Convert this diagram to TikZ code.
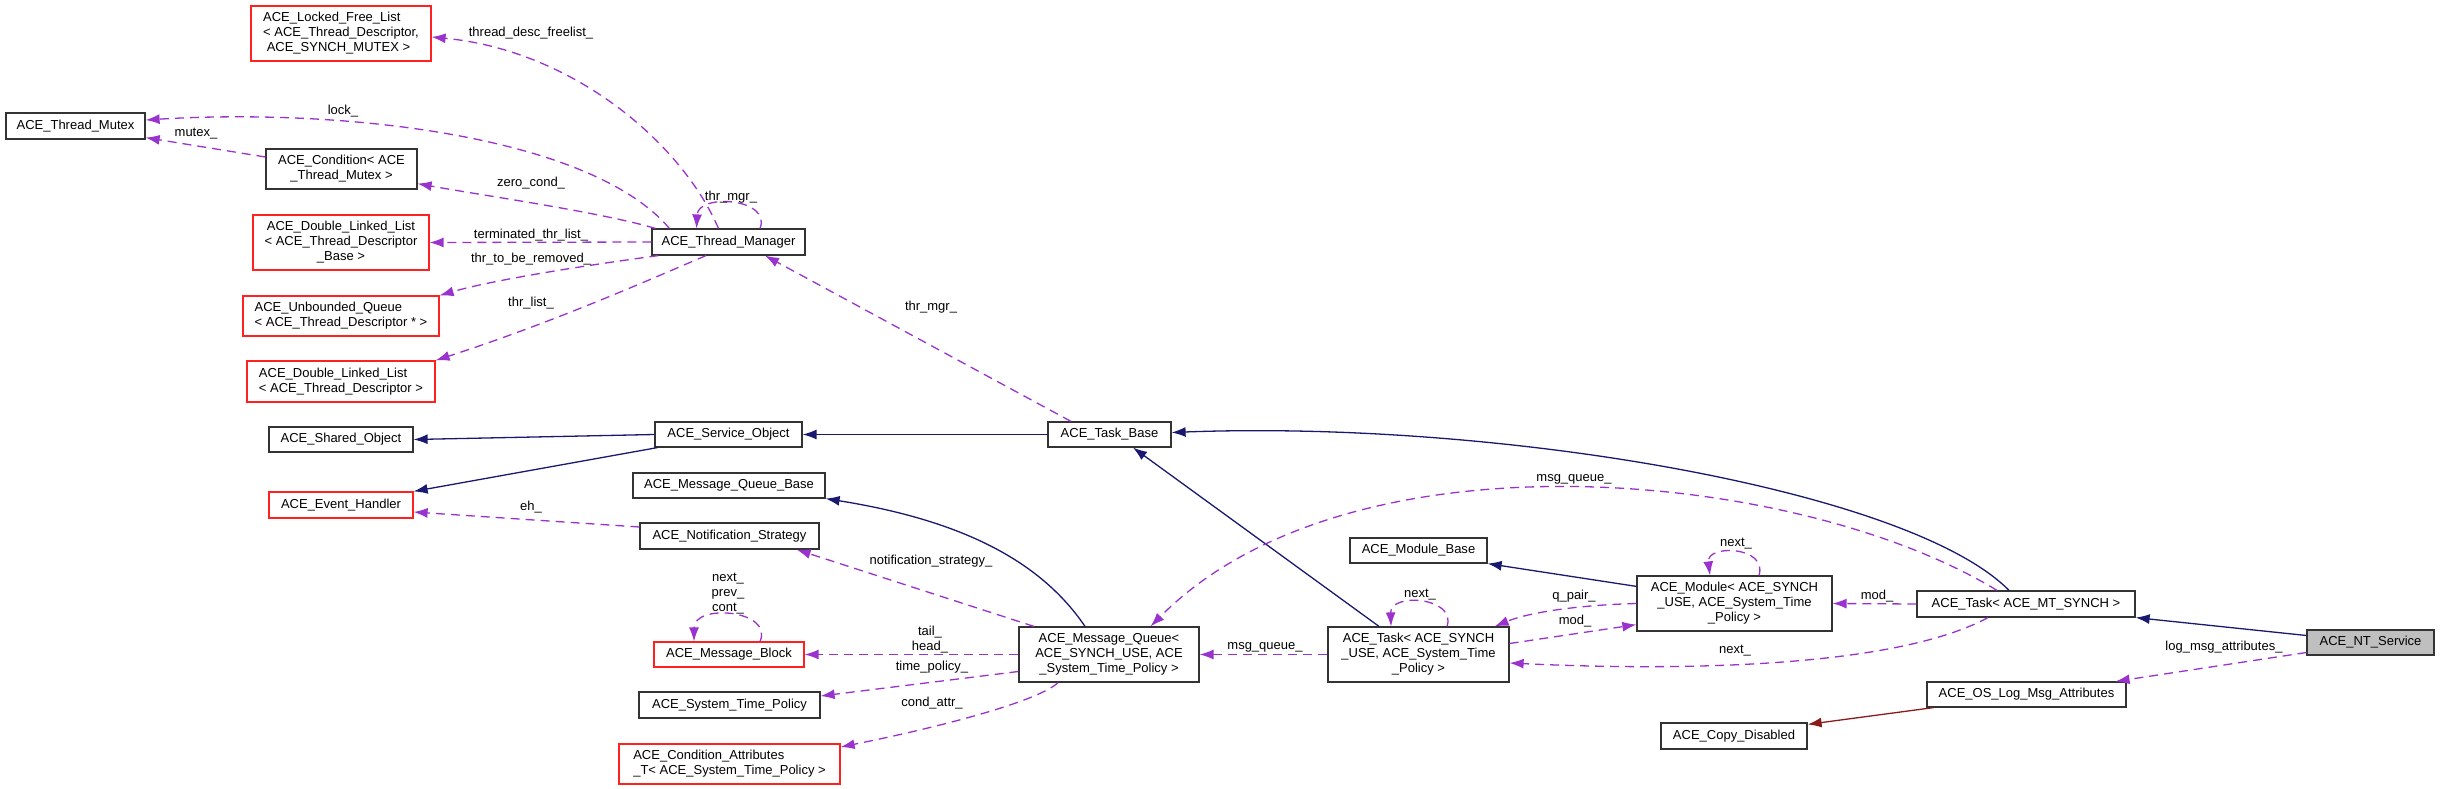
\documentclass[tikz,border=0pt]{standalone}
\usepackage{fontspec}
\setmainfont{Liberation Sans}
\usetikzlibrary{arrows.meta,calc}
\definecolor{usec}{HTML}{9A32CD}
\definecolor{inhc}{HTML}{191970}
\definecolor{privc}{HTML}{8B1A1A}
\definecolor{boxred}{HTML}{FF2020}
\definecolor{ntfill}{HTML}{BFBFBF}
\newcommand{\lblfont}{\fontsize{13bp}{15bp}\selectfont}
\begin{document}
\begin{tikzpicture}[x=1bp,y=-1bp,
  cls/.style={draw=black!80, line width=1.2bp, fill=white, inner sep=0pt, align=center, font=\lblfont},
  redcls/.style={cls, draw=boxred},
  lcls/.style={redcls, align=left},
  lab/.style={inner sep=0pt, font=\lblfont, align=center},
  use/.style={draw=usec, line width=1.3bp, dash pattern=on 9bp off 6bp, -{Latex[length=14bp,width=10bp]}},
  inh/.style={draw=inhc, line width=1.3bp, -{Latex[length=14bp,width=10bp]}},
  priv/.style={draw=privc, line width=1.3bp, -{Latex[length=14bp,width=10bp]}}]
\useasboundingbox (0,0) rectangle (2440,789);
% nodes
\node[lcls, minimum width=180bp, minimum height=55bp] (lfl) at (341,33.5) {ACE\_Locked\_Free\_List\\< ACE\_Thread\_Descriptor,\\\ ACE\_SYNCH\_MUTEX >};
\node[cls, minimum width=139bp, minimum height=26bp] (tmx) at (75.5,126) {ACE\_Thread\_Mutex};
\node[cls, minimum width=151bp, minimum height=40bp] (cond) at (341.5,169) {ACE\_Condition< ACE\\\_Thread\_Mutex >};
\node[redcls, minimum width=176bp, minimum height=55bp] (dllb) at (341,242.5) {ACE\_Double\_Linked\_List\\< ACE\_Thread\_Descriptor\\\_Base >};
\node[cls, minimum width=153bp, minimum height=26bp] (tm) at (728.5,242) {ACE\_Thread\_Manager};
\node[lcls, minimum width=196bp, minimum height=40bp] (uq) at (341,316) {ACE\_Unbounded\_Queue\\< ACE\_Thread\_Descriptor * >};
\node[lcls, minimum width=188bp, minimum height=41bp] (dll) at (341,381.5) {ACE\_Double\_Linked\_List\\< ACE\_Thread\_Descriptor >};
\node[cls, minimum width=144bp, minimum height=25bp] (so) at (341,439.5) {ACE\_Shared\_Object};
\node[cls, minimum width=147bp, minimum height=25bp] (svc) at (728.5,434.5) {ACE\_Service\_Object};
\node[cls, minimum width=123bp, minimum height=25bp] (tb) at (1109.5,434.5) {ACE\_Task\_Base};
\node[redcls, minimum width=144bp, minimum height=26bp] (eh) at (341,505) {ACE\_Event\_Handler};
\node[cls, minimum width=192bp, minimum height=25bp] (mqb) at (729,485.5) {ACE\_Message\_Queue\_Base};
\node[cls, minimum width=179bp, minimum height=26bp] (ns) at (729.5,536) {ACE\_Notification\_Strategy};
\node[redcls, minimum width=150bp, minimum height=25bp] (mb) at (729,654.5) {ACE\_Message\_Block};
\node[cls, minimum width=181bp, minimum height=26bp] (stp) at (729.5,705) {ACE\_System\_Time\_Policy};
\node[lcls, minimum width=221bp, minimum height=40bp] (ca) at (729.5,764) {ACE\_Condition\_Attributes\\\_T< ACE\_System\_Time\_Policy >};
\node[cls, minimum width=180bp, minimum height=55bp] (mq) at (1109,654.5) {ACE\_Message\_Queue<\\ACE\_SYNCH\_USE, ACE\\\_System\_Time\_Policy >};
\node[cls, minimum width=181bp, minimum height=55bp] (ts) at (1418.5,654.5) {ACE\_Task< ACE\_SYNCH\\\_USE, ACE\_System\_Time\\\_Policy >};
\node[cls, minimum width=137bp, minimum height=25bp] (mbase) at (1418.5,550.5) {ACE\_Module\_Base};
\node[cls, minimum width=195bp, minimum height=55bp] (mod) at (1734.5,603.5) {ACE\_Module< ACE\_SYNCH\\\_USE, ACE\_System\_Time\\\_Policy >};
\node[cls, minimum width=218bp, minimum height=26bp] (tmt) at (2026,604) {ACE\_Task< ACE\_MT\_SYNCH >};
\node[cls, fill=ntfill, minimum width=127bp, minimum height=25bp] (nt) at (2370.5,642.5) {ACE\_NT\_Service};
\node[cls, minimum width=199bp, minimum height=25bp] (oslog) at (2026.5,694.5) {ACE\_OS\_Log\_Msg\_Attributes};
\node[cls, minimum width=146bp, minimum height=26bp] (cd) at (1734,736) {ACE\_Copy\_Disabled};
% usage edges (Thread_Manager)
\draw[use] ($(tm.north)+(-10,0)$) .. controls (680,140) and (570,50) .. ($(lfl.east)+(0,3.5)$);
\draw[use] ($(tm.north west)+(18,0)$) .. controls (590,135) and (340,108) .. ($(tmx.east)+(0,-6)$);
\draw[use] ($(cond.west)+(0,-12)$) -- ($(tmx.south east)+(0,-2)$);
\draw[use] ($(tm.north west)+(4,0)$) .. controls (600,212) and (480,195) .. ($(cond.south east)+(0,-6)$);
\draw[use] (tm.west) -- (dllb.east);
\draw[use] ($(tm.south west)+(7,0)$) .. controls (610,262) and (500,278) .. (uq.north east);
\draw[use] ($(tm.south)+(-22.5,0)$) .. controls (660,275) and (560,320) .. (dll.north east);
\draw[use] ($(tm.north)+(31.5,0)$) .. controls (772,198) and (698,193) .. ($(tm.north)+(-32,0)$);
\draw[use] ($(tb.north)+(-38.5,0)$) -- ($(tm.south)+(36.5,0)$);
% inheritance
\draw[inh] (svc.west) -- (so.east);
\draw[inh] ($(svc.south west)+(3,0)$) -- (eh.north east);
\draw[inh] (tb.west) -- (svc.east);
\draw[inh] ($(tmt.north)+(-17,0)$) .. controls (1910,490) and (1500,420) .. ($(tb.east)+(0,-2)$);
\draw[inh] ($(mq.north)+(-24,0)$) .. controls (1040,560) and (960,520) .. (mqb.south east);
\draw[inh] ($(ts.north)+(-39.5,0)$) -- ($(tb.south)+(23.5,0)$);
\draw[inh] ($(mod.north west)+(0,11)$) -- (mbase.south east);
\draw[inh] ($(nt.west)+(0,-7)$) -- (tmt.south east);
\draw[priv] ($(oslog.south west)+(7,0)$) -- ($(cd.north east)+(0,2)$);
% usage edges (others)
\draw[use] ($(mq.north)+(-75,0)$) -- ($(ns.south east)+(-23,0)$);
\draw[use] ($(ns.west)+(0,-9)$) -- ($(eh.east)+(0,7)$);
\draw[use] ($(mb.north)+(31,0)$) .. controls (774,610) and (694,603) .. ($(mb.north)+(-35,0)$);
\draw[use] (mq.west) -- (mb.east);
\draw[use] ($(mq.west)+(0,17)$) -- ($(stp.east)+(0,-9)$);
\draw[use] ($(mq.south)+(-51,0)$) .. controls (1040,700) and (950,725) .. ($(ca.east)+(0,-17)$);
\draw[use] (ts.west) -- (mq.east);
\draw[use] ($(ts.north)+(28.5,0)$) .. controls (1457,597) and (1390,592) .. ($(ts.north)+(-27.5,0)$);
\draw[use] ($(tmt.north)+(-29,0)$) .. controls (1800,470) and (1350,425) .. ($(mq.north east)+(-49,0)$);
\draw[use] (mod.west) .. controls (1580,605) and (1530,612) .. ($(ts.north east)+(-15,0)$);
\draw[use] ($(ts.east)+(0,-11)$) -- ($(mod.south west)+(0,-7)$);
\draw[use] ($(mod.north)+(24.5,0)$) .. controls (1768,546) and (1706,544) .. ($(mod.north)+(-24.5,0)$);
\draw[use] (tmt.west) -- (mod.east);
\draw[use] ($(tmt.south)+(-38,0)$) .. controls (1900,665) and (1700,672) .. ($(ts.east)+(0,8.5)$);
\draw[use] ($(nt.west)+(0,10)$) -- ($(oslog.north east)+(-11,0)$);
% labels
\node[lab] (l1) at (531,33) {thread\_desc\_freelist\_};
\node[lab] (l2) at (343,111) {lock\_};
\node[lab] (l3) at (196,134) {mutex\_};
\node[lab] (l4) at (531,183) {zero\_cond\_};
\node[lab] (l5) at (731,197) {thr\_mgr\_};
\node[lab] (l6) at (531,235) {terminated\_thr\_list\_};
\node[lab] (l7) at (531,259) {thr\_to\_be\_removed\_};
\node[lab] (l8) at (531,303) {thr\_list\_};
\node[lab] (l9) at (931,307) {thr\_mgr\_};
\node[lab] (l10) at (531,507) {eh\_};
\node[lab] (l11) at (931,561) {notification\_strategy\_};
\node[lab] (l12) at (728,594) {next\_\\prev\_\\cont\_};
\node[lab] (l13) at (930,639.5) {tail\_\\head\_};
\node[lab] (l14) at (932,667) {time\_policy\_};
\node[lab] (l15) at (932,703) {cond\_attr\_};
\node[lab] (l16) at (1265,647) {msg\_queue\_};
\node[lab] (l17) at (1420,595) {next\_};
\node[lab] (l18) at (1574,479) {msg\_queue\_};
\node[lab] (l19) at (1574,596) {q\_pair\_};
\node[lab] (l20) at (1575,621) {mod\_};
\node[lab] (l21) at (1736,544) {next\_};
\node[lab] (l22) at (1877,596) {mod\_};
\node[lab] (l23) at (1735,651) {next\_};
\node[lab] (l24) at (2224,647) {log\_msg\_attributes\_};
\end{tikzpicture}
\end{document}
